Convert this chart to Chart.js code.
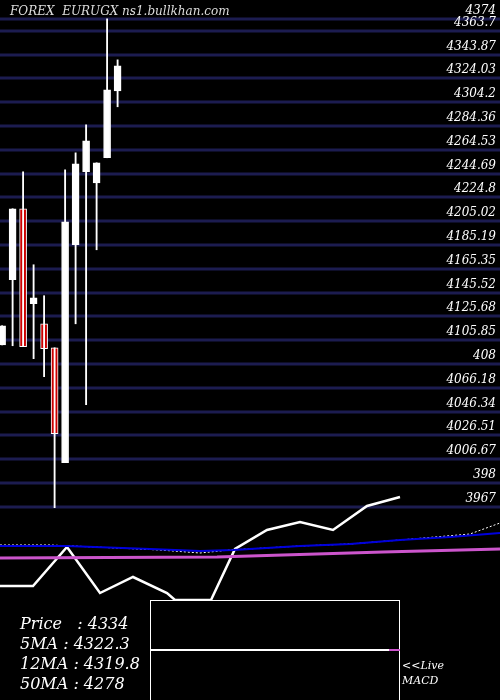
<!DOCTYPE html>
<html><head><meta charset="utf-8">
<script src="https://cdn.jsdelivr.net/npm/chart.js@4/dist/chart.umd.min.js"></script>
<style>html,body{margin:0;padding:0;background:#000;}#w{position:relative;width:500px;height:700px;}</style>
</head><body><div id="w"><canvas id="c" width="500" height="700"></canvas></div>
<script>
const title = "FOREX  EURUGX ns1.bullkhan.com";
const tickLabels = ["4374","4363.7","4343.87","4324.03","4304.2","4284.36","4264.53","4244.69","4224.8","4205.02","4185.19","4165.35","4145.52","4125.68","4105.85","408","4066.18","4046.34","4026.51","4006.67","398","3967"];
const tickValues = [4373.7,4363.7,4343.87,4324.03,4304.2,4284.36,4264.53,4244.69,4224.8,4205.02,4185.19,4165.35,4145.52,4125.68,4105.85,4086.0,4066.18,4046.34,4026.51,4006.67,3986.8,3966.9];
const opens  = [4101.9,4156.2,4215.4,4136.2,4119.5,4099.5,4003.7,4185.4,4246.2,4237.0,4257.9,4313.7];
const highs  = [4117.9,4215.4,4246.2,4168.7,4142.9,4099.5,4247.9,4262.0,4285.4,4253.7,4373.7,4339.5];
const lows   = [4101.9,4101.2,4100.4,4090.4,4075.4,3966.2,4003.7,4119.5,4052.0,4181.2,4257.9,4300.4];
const closes = [4117.9,4215.4,4100.4,4141.2,4098.7,4027.9,4204.5,4252.9,4272.0,4253.7,4314.5,4334.5];
// indicator panel (panel units, 0 top .. 700 bottom)
const indX      = [0,33,67,100,133,167,175,211,235,267,300,333,367,400];
const indPrice  = [586,586,547,593,577,593,600,600,549,530,522,530,506,497];
const blueX = [0,67,150,200,233,300,350,400,450,500];
const blueY = [546,546,549,551,550,546,544,540,537,533];
const dotX  = [0,50,160,200,230,300,350,400,470,500];
const dotY  = [545,545,550,553,550,546,544,540,534,523];
const magX  = [0,217,283,383,500];
const magY  = [558,557,555,552,549];
const macdLabel = ["<<Live","MACD"];
const info = ["Price   : 4334","5MA : 4322.3","12MA : 4319.8","50MA : 4278"];

const idx = opens.map((_,i)=>i);
const bodies = idx.map(i=>({x:i,y:[opens[i],closes[i]]}));
const wicks = idx.map(i=>({x:i,y:[lows[i],highs[i]]}));
const bodyColors = idx.map(i=>closes[i]>=opens[i]?'#ffffff':'#cc0000');
const pts=(xs,ys)=>xs.map((x,i)=>({x:x,y:ys[i]}));
const serif='"DejaVu Serif", "Liberation Serif", serif';

const grid = {
  id:'grid',
  beforeDatasetsDraw(chart){
    const c=chart.ctx, y=chart.scales.y;
    c.save();
    c.strokeStyle='#1c1c50';c.lineWidth=3;
    c.fillStyle='#fff';c.font='italic 12px '+serif;c.textAlign='right';c.textBaseline='bottom';
    tickValues.forEach((v,i)=>{
      const p=Math.round(y.getPixelForValue(v));
      c.beginPath();c.moveTo(0,p);c.lineTo(500,p);c.stroke();
      c.fillText(tickLabels[i],496,p-2);
    });
    c.restore();
  }
};
const overlay = {
  id:'overlay',
  afterDatasetsDraw(chart){
    const c=chart.ctx;
    c.save();
    c.fillStyle='#ddd';c.font='italic 12px '+serif;
    c.textAlign='left';c.textBaseline='middle';
    c.fillText(title,10,12);
    const xs=chart.scales.xi, ys=chart.scales.yi;
    const x0=xs.getPixelForValue(150),x1=xs.getPixelForValue(400),y0=ys.getPixelForValue(600),y1=ys.getPixelForValue(700);
    c.fillStyle='#000';c.fillRect(x0,y0,x1-x0,y1-y0);
    c.strokeStyle='#fff';c.lineWidth=1;c.strokeRect(x0+0.5,y0+0.5,x1-x0-1,y1-y0);
    const ym=ys.getPixelForValue(650);
    c.lineWidth=2;c.strokeStyle='#fff';c.beginPath();c.moveTo(x0,ym);c.lineTo(xs.getPixelForValue(389),ym);c.stroke();
    c.strokeStyle='#cc55cc';c.beginPath();c.moveTo(xs.getPixelForValue(389),ym);c.lineTo(x1,ym);c.stroke();
    c.fillStyle='#fff';c.font='italic 11px '+serif;
    c.fillText(macdLabel[0],402,666);c.fillText(macdLabel[1],402,681);
    c.font='italic 16px '+serif;
    info.forEach((t,i)=>c.fillText(t,20,625+i*20));
    c.restore();
  }
};

new Chart(document.getElementById('c'),{
  data:{datasets:[
    {type:'line',data:pts(magX,magY),xAxisID:'xi',yAxisID:'yi',borderColor:'#cc55cc',borderWidth:3,pointRadius:0},
    {type:'line',data:pts(blueX,blueY),xAxisID:'xi',yAxisID:'yi',borderColor:'#0000dd',borderWidth:2,pointRadius:0},
    {type:'line',data:pts(dotX,dotY),xAxisID:'xi',yAxisID:'yi',borderColor:'#ffffff',borderWidth:1,borderDash:[2,2],pointRadius:0},
    {type:'line',data:pts(indX,indPrice),xAxisID:'xi',yAxisID:'yi',borderColor:'#ffffff',borderWidth:2.5,pointRadius:0},
    {type:'bar',data:wicks,xAxisID:'x',yAxisID:'y',backgroundColor:'#ffffff',barThickness:1.2,grouped:false},
    {type:'bar',data:bodies,xAxisID:'x',yAxisID:'y',backgroundColor:bodyColors,borderColor:'#ffffff',borderWidth:1,borderSkipped:false,barThickness:7,grouped:false}
  ]},
  plugins:[grid,overlay],
  options:{
    responsive:false,animation:false,
    layout:{padding:0},
    plugins:{legend:{display:false},tooltip:{enabled:false}},
    scales:{
      x:{type:'linear',min:-0.2,max:47.42,offset:false,display:false},
      xi:{type:'linear',min:0,max:500,display:false},
      yi:{type:'linear',min:0,max:700,reverse:true,display:false},
      y:{type:'linear',min:3805.9,max:4389.4,display:false}
    }
  }
});
</script></body></html>
